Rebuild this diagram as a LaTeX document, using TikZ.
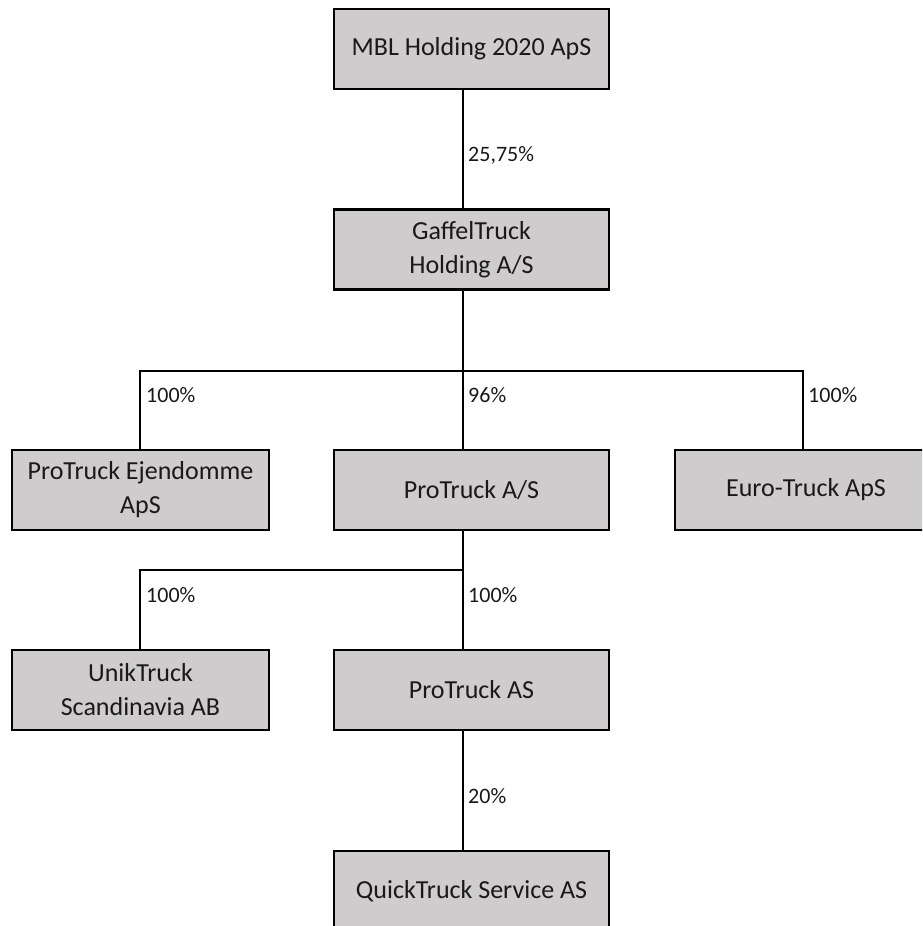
\documentclass[tikz,border=0pt]{standalone}
\usepackage{fontspec}
\setmainfont{Carlito}
\definecolor{boxfill}{RGB}{206,204,204}
\definecolor{txt}{RGB}{25,25,25}
\begin{document}
\begin{tikzpicture}[x=1pt,y=-1pt,
  org/.style={draw=black, line width=2.4pt, fill=boxfill, text=txt,
    inner sep=0pt, align=center, font=\fontsize{26}{34}\selectfont},
  wide/.style={minimum width=275pt, minimum height=80pt},
  narrow/.style={minimum width=257pt, minimum height=80pt},
  lbl/.style={anchor=west, text=txt, inner sep=0pt, font=\fontsize{22}{26}\selectfont},
  conn/.style={line width=1.8pt, draw=black}]
\useasboundingbox (0,0) rectangle (922,926);
\clip (0,0) rectangle (922,926);
% boxes
\node[org,wide] (mbl) at (471.5,49) {MBL Holding 2020 ApS};
\node[org,wide] (gaf) at (471.5,249.5) {GaffelTruck\\Holding A/S};
\node[org,narrow] (ej) at (140.5,490) {ProTruck Ejendomme\\ApS};
\node[org,wide] (pa) at (471.5,490) {ProTruck A/S};
\node[org,minimum width=262pt,minimum height=80pt] (eu) at (806,490) {Euro-Truck ApS};
\node[org,narrow] (un) at (140.5,690) {UnikTruck\\Scandinavia AB};
\node[org,wide] (pas) at (471.5,690) {ProTruck AS};
\node[org,wide] (qt) at (471.5,891) {QuickTruck Service AS};
% bus coordinates
\coordinate (c) at (463,0);
\coordinate (bL) at (140,371);
\coordinate (bC) at (463,371);
\coordinate (bR) at (803,371);
\coordinate (dL) at (140,570);
\coordinate (dC) at (463,570);
% connectors
\draw[conn] (c |- mbl.south) -- (c |- gaf.north);
\draw[conn] (c |- gaf.south) -- (bC);
\draw[conn] (bL |- ej.north) -- (bL) -- (bR) -- (bR |- eu.north);
\draw[conn] (bC) -- (bC |- pa.north);
\draw[conn] (c |- pa.south) -- (dC);
\draw[conn] (dL |- un.north) -- (dL) -- (dC) -- (dC |- pas.north);
\draw[conn] (c |- pas.south) -- (c |- qt.north);
% labels
\node[lbl] (l1) at (468,155) {25,75\%};
\node[lbl] (l2) at (146,395) {100\%};
\node[lbl] (l3) at (468,395) {96\%};
\node[lbl] (l4) at (808,395) {100\%};
\node[lbl] (l5) at (146,595) {100\%};
\node[lbl] (l6) at (468,595) {100\%};
\node[lbl] (l7) at (468,796) {20\%};
\end{tikzpicture}
\end{document}
